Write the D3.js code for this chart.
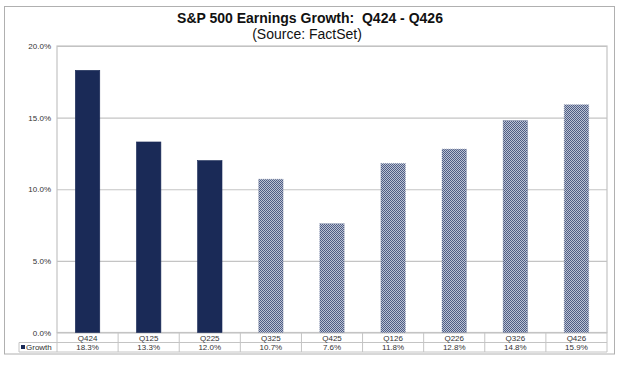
<!DOCTYPE html>
<html><head><meta charset="utf-8">
<script src="https://cdn.jsdelivr.net/npm/d3@7"></script>
<style>body{margin:0;background:#fff;font-family:"Liberation Sans",Arial,sans-serif}</style>
</head><body>
<svg id="c" width="624" height="370"></svg>
<script>
const categories = ["Q424","Q125","Q225","Q325","Q425","Q126","Q226","Q326","Q426"];
const growth = [18.3,13.3,12.0,10.7,7.6,11.8,12.8,14.8,15.9];
const actual = [true,true,true,false,false,false,false,false,false];
const yTicks = [0,5,10,15,20];
const seriesName = "Growth";
const title = "S&P 500 Earnings Growth:\u00a0 Q424 - Q426";
const subtitle = "(Source: FactSet)";

const svg = d3.select("#c");
const L = 57, R = 607, T = 46, B = 332.5;
const navy = "#1a2a57";
const grid = "#c4c4c4";

const defs = svg.append("defs");
const pat = defs.append("pattern").attr("id","hatch").attr("width",2).attr("height",2)
  .attr("patternUnits","userSpaceOnUse");
pat.append("rect").attr("width",2).attr("height",2).attr("fill","#bcc3d4");
pat.append("rect").attr("x",0).attr("y",0).attr("width",1).attr("height",1).attr("fill","#4e5d84");
pat.append("rect").attr("x",1).attr("y",1).attr("width",1).attr("height",1).attr("fill","#4e5d84");

// outer frame
svg.append("rect").attr("x",4.5).attr("y",6.5).attr("width",610).attr("height",347.5)
  .attr("fill","none").attr("stroke","#b0b0b0").attr("stroke-width",1);

svg.append("text").attr("x",310).attr("y",23).attr("text-anchor","middle")
  .attr("font-weight","bold").attr("font-size",14).attr("fill","#111").text(title);
svg.append("text").attr("x",307).attr("y",38.5).attr("text-anchor","middle")
  .attr("font-size",14).attr("fill","#111").text(subtitle);

const x = d3.scaleBand().domain(categories).range([L,R]).paddingInner(0);
const y = d3.scaleLinear().domain([0,20]).range([B,T]);

// gridlines
const yAxis = d3.axisLeft(y).tickValues(yTicks).tickSize(-(R-L)).tickFormat(d=>d3.format(".1f")(d)+"%");
const ga = svg.append("g").attr("transform",`translate(${L},0)`).call(yAxis);
ga.select(".domain").remove();
ga.selectAll(".tick line").attr("stroke",grid).attr("stroke-width",1.2);
ga.selectAll(".tick text").attr("x",-6).attr("font-size",8).attr("fill","#333")
  .attr("font-family","Liberation Sans, Arial, sans-serif");

// plot border
svg.append("rect").attr("x",L).attr("y",T).attr("width",R-L).attr("height",B-T)
  .attr("fill","none").attr("stroke",grid).attr("stroke-width",1.2);

// bars
const bw = x.bandwidth()*0.4;
svg.append("g").selectAll("rect").data(categories).join("rect")
  .attr("x",d=>x(d)+(x.bandwidth()-bw)/2)
  .attr("y",(d,i)=>y(growth[i]))
  .attr("width",bw)
  .attr("height",(d,i)=>y(0)-y(growth[i]))
  .attr("fill",(d,i)=>actual[i]?navy:"url(#hatch)")
  .attr("stroke",(d,i)=>actual[i]?navy:"#6e7b9c")
  .attr("stroke-width",0.6)
  .attr("stroke-dasharray",(d,i)=>actual[i]?null:"1,1");

// data table
const r1 = B, r2 = 342.5, r3 = 352;
const tg = svg.append("g").attr("stroke",grid).attr("stroke-width",1);
tg.append("line").attr("x1",L).attr("x2",R).attr("y1",r2).attr("y2",r2);
tg.append("line").attr("x1",19).attr("x2",R).attr("y1",r3).attr("y2",r3);
tg.append("line").attr("x1",19).attr("x2",L).attr("y1",r2).attr("y2",r2);
tg.append("line").attr("x1",19).attr("x2",19).attr("y1",r2).attr("y2",r3);
categories.forEach(c=>{
  tg.append("line").attr("x1",x(c)).attr("x2",x(c)).attr("y1",r1).attr("y2",r3);
});
tg.append("line").attr("x1",R).attr("x2",R).attr("y1",r1).attr("y2",r3);

const tt = svg.append("g").attr("font-size",8).attr("fill","#333").attr("text-anchor","middle");
categories.forEach((c,i)=>{
  tt.append("text").attr("x",x(c)+x.bandwidth()/2).attr("y",r2-2).text(c);
  tt.append("text").attr("x",x(c)+x.bandwidth()/2).attr("y",r3-2).text(d3.format(".1f")(growth[i])+"%");
});
svg.append("rect").attr("x",21).attr("y",r3-7).attr("width",4).attr("height",4).attr("fill",navy);
svg.append("text").attr("x",26).attr("y",r3-2).attr("font-size",8).attr("fill","#333").text(seriesName);
</script>
</body></html>
